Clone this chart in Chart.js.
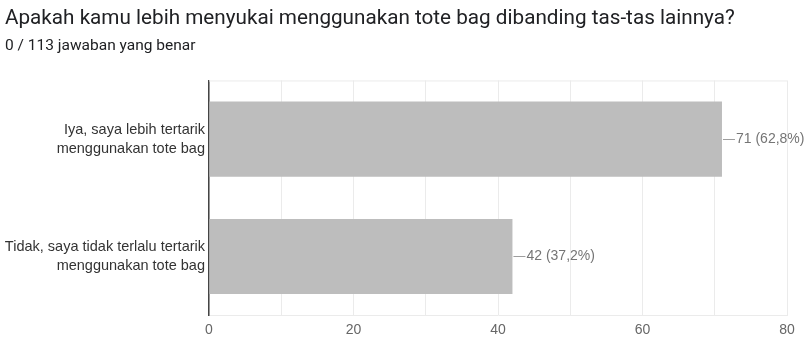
<!DOCTYPE html>
<html>
<head>
<meta charset="utf-8">
<script src="https://cdn.jsdelivr.net/npm/chart.js@4.4.1/dist/chart.umd.min.js"></script>
<style>
  body { margin: 0; background: #fff; }
  canvas { display: block; }
</style>
</head>
<body>
<canvas id="formChart" width="811" height="338"></canvas>
<script>
// Question data (Google Forms summary)
const questionTitle = "Apakah kamu lebih menyukai menggunakan tote bag dibanding tas-tas lainnya?";
const questionSubtitle = "0 / 113 jawaban yang benar";
const answerLabels = [
  ["Iya, saya lebih tertarik", "menggunakan tote bag"],
  ["Tidak, saya tidak terlalu tertarik", "menggunakan tote bag"]
];
const answerCounts = [71, 42];
const totalResponses = 113;
const xTickLabels = [0, 20, 40, 60, 80];

const labelFont = '"Liberation Sans", Arial, sans-serif';

// draws the "—71 (62,8%)" labels at the end of each bar
const valueLabels = {
  id: 'valueLabels',
  afterDatasetsDraw(chart) {
    const ctx = chart.ctx;
    const meta = chart.getDatasetMeta(0);
    ctx.save();
    ctx.font = '14px ' + labelFont;
    ctx.fillStyle = '#757575';
    ctx.strokeStyle = '#9e9e9e';
    ctx.lineWidth = 1;
    ctx.textBaseline = 'middle';
    meta.data.forEach((bar, i) => {
      const pct = (answerCounts[i] / totalResponses * 100).toFixed(1).replace('.', ',');
      const y = Math.round(bar.y) + 0.5;
      ctx.beginPath();
      ctx.moveTo(bar.x + 1, y);
      ctx.lineTo(bar.x + 13, y);
      ctx.stroke();
      ctx.fillText(answerCounts[i] + ' (' + pct + '%)', bar.x + 14, bar.y);
    });
    ctx.restore();
  }
};

// faint line along the top of the plot area
const topBorder = {
  id: 'topBorder',
  beforeDatasetsDraw(chart) {
    const { ctx, chartArea } = chart;
    ctx.save();
    ctx.strokeStyle = '#ebebeb';
    ctx.beginPath();
    ctx.moveTo(chartArea.left, chartArea.top + 0.5);
    ctx.lineTo(chartArea.right, chartArea.top + 0.5);
    ctx.stroke();
    ctx.restore();
  }
};

const ctx = document.getElementById('formChart').getContext('2d');
new Chart(ctx, {
  type: 'bar',
  data: {
    labels: answerLabels,
    datasets: [{
      data: answerCounts,
      backgroundColor: '#bdbdbd',
      categoryPercentage: 0.8,
      barPercentage: 0.8
    }]
  },
  options: {
    indexAxis: 'y',
    responsive: false,
    animation: false,
    layout: { padding: { left: 5, right: 24, top: 0, bottom: -8 } },
    plugins: {
      legend: { display: false },
      tooltip: { enabled: false },
      title: {
        display: true,
        text: questionTitle,
        align: 'start',
        color: '#202124',
        font: { family: 'Roboto, sans-serif', size: 20.7, weight: 'normal' },
        padding: { top: 6, bottom: 3 }
      },
      subtitle: {
        display: true,
        text: questionSubtitle,
        align: 'start',
        color: '#202124',
        font: { family: 'Roboto, sans-serif', size: 15.5 },
        padding: { top: 3, bottom: 25 }
      }
    },
    scales: {
      x: {
        min: 0,
        max: 80,
        grid: { color: '#ebebeb', drawTicks: false },
        border: { display: true, color: '#ebebeb' },
        ticks: {
          stepSize: 10,
          autoSkip: false,
          padding: 7,
          color: '#666',
          font: { family: labelFont, size: 14 },
          callback: v => xTickLabels.includes(v) ? v : ''
        }
      },
      y: {
        grid: { display: false, drawTicks: false },
        border: { display: true, color: '#444', width: 1.5 },
        ticks: {
          padding: 4,
          color: '#333',
          font: { family: labelFont, size: 14.5, lineHeight: 1.3 }
        },
        afterFit(scale) { scale.width = 204; }
      }
    }
  },
  plugins: [valueLabels, topBorder]
});
</script>
</body>
</html>
